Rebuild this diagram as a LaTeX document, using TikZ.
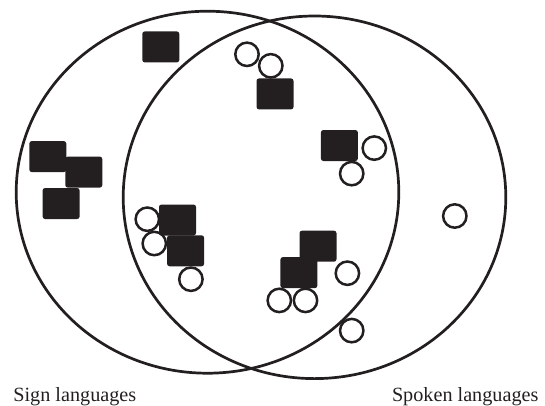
\documentclass[tikz,border=0pt]{standalone}
\usepackage{fontspec}
\setmainfont{Liberation Serif}
\definecolor{ink}{HTML}{231F20}
\begin{document}
\begin{tikzpicture}[x=1pt, y=-1pt,
  setline/.style={draw=ink, line width=2.7pt},
  sq/.style={rectangle, fill=ink, rounded corners=2.5pt,
    minimum width=37pt, minimum height=31pt, inner sep=0pt},
  ring/.style={circle, draw=ink, line width=2.5pt, fill=none,
    minimum size=23.4pt, inner sep=0pt},
  lbl/.style={anchor=base west, inner sep=0pt, text=ink,
    font=\fontsize{20.2}{24}\selectfont}]
\useasboundingbox (0,0) rectangle (545,405);

% the two overlapping sets
\draw[setline] (207.5,192.2) ellipse [x radius=191.3, y radius=181];
\draw[setline] (314.5,197.3) ellipse [x radius=191.3, y radius=181.3];

% filled markers
\node[sq] (s1)  at (160.8, 46.9) {};
\node[sq] (s2)  at (275.0, 93.9) {};
\node[sq] (s3)  at (47.8, 156.6) {};
\node[sq] (s4)  at (83.8, 172.1) {};
\node[sq] (s5)  at (61.1, 203.5) {};
\node[sq] (s6)  at (339.4, 145.5) {};
\node[sq] (s7)  at (177.5, 220.0) {};
\node[sq] (s8)  at (185.6, 250.8) {};
\node[sq] (s9)  at (318.0, 246.2) {};
\node[sq] (s10) at (298.9, 272.6) {};

% open markers
\node[ring] (c1)  at (247.0, 54.3) {};
\node[ring] (c2)  at (270.8, 65.8) {};
\node[ring] (c3)  at (374.3, 148.1) {};
\node[ring] (c4)  at (351.7, 173.6) {};
\node[ring] (c5)  at (454.8, 216.0) {};
\node[ring] (c6)  at (147.3, 219.2) {};
\node[ring] (c7)  at (154.3, 243.5) {};
\node[ring] (c8)  at (190.9, 279.2) {};
\node[ring] (c9)  at (347.4, 273.2) {};
\node[ring] (c10) at (279.3, 300.4) {};
\node[ring] (c11) at (305.5, 300.4) {};
\node[ring] (c12) at (351.7, 330.6) {};

% set labels
\node[lbl] (signlbl)  at (13.2, 401) {Sign languages};
\node[lbl] (spokelbl) at (391.8, 401) {Spoken languages};
\end{tikzpicture}
\end{document}
